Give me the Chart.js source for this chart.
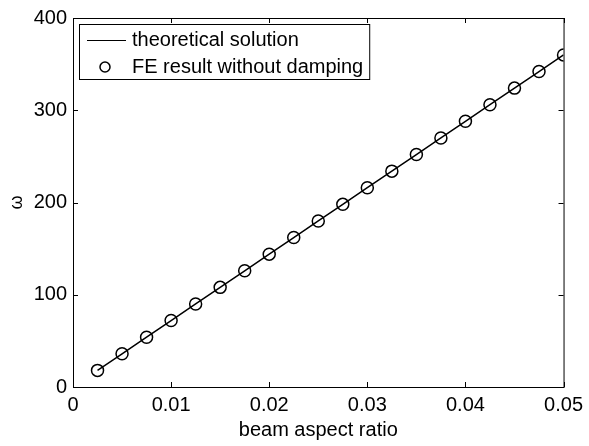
<!DOCTYPE html>
<html>
<head>
<meta charset="utf-8">
<script src="https://cdn.jsdelivr.net/npm/chart.js@4/dist/chart.umd.min.js"></script>
<style>
  html, body { margin: 0; padding: 0; background: #fff; }
  #wrap { width: 589px; height: 446px; }
</style>
</head>
<body>
<div id="wrap"><canvas id="chart" width="589" height="446"></canvas></div>
<script>
// values
const aspectRatio = [0.0025, 0.005, 0.0075, 0.01, 0.0125, 0.015, 0.0175, 0.02, 0.0225, 0.025,
  0.0275, 0.03, 0.0325, 0.035, 0.0375, 0.04, 0.0425, 0.045, 0.0475, 0.05];
const theoretical = [18, 36, 54, 72, 90, 108, 126, 144, 162, 180,
  198, 216, 234, 252, 270, 288, 306, 324, 342, 360];
const feResult = [18, 36, 54, 72, 90, 108, 126, 144, 162, 180,
  198, 216, 234, 252, 270, 288, 306, 324, 342, 360];
const xTicks = [0, 0.01, 0.02, 0.03, 0.04, 0.05];
const yTicks = [0, 100, 200, 300, 400];
const legendLabels = ['theoretical solution', 'FE result without damping'];

const FONT = 'Liberation Sans, Arial, Helvetica, sans-serif';
const FSIZE = 20;

// matlab style box, inward ticks and legend
const boxPlugin = {
  id: 'box',
  afterDraw(chart) {
    const { ctx, chartArea: a, scales } = chart;
    ctx.save();
    ctx.strokeStyle = '#000';
    ctx.lineWidth = 1;
    ctx.strokeRect(a.left + 0.5, a.top + 0.5, a.right - a.left, a.bottom - a.top);
    const len = 5;
    ctx.beginPath();
    xTicks.forEach((v) => {
      const px = Math.round(scales.x.getPixelForValue(v)) + 0.5;
      ctx.moveTo(px, a.bottom); ctx.lineTo(px, a.bottom - len);
      ctx.moveTo(px, a.top); ctx.lineTo(px, a.top + len);
    });
    yTicks.forEach((v) => {
      const py = Math.round(scales.y.getPixelForValue(v)) + 0.5;
      ctx.moveTo(a.left, py); ctx.lineTo(a.left + len, py);
      ctx.moveTo(a.right, py); ctx.lineTo(a.right - len, py);
    });
    ctx.stroke();

    // legend
    ctx.font = FSIZE + 'px ' + FONT;
    const textW = Math.max(...legendLabels.map((t) => ctx.measureText(t).width));
    const lx = a.left + 6, ly = a.top + 6, lh = 55;
    const lw = 53 + textW + 6;
    ctx.fillStyle = '#fff';
    ctx.fillRect(lx, ly, lw, lh);
    ctx.strokeRect(lx + 0.5, ly + 0.5, lw, lh);
    ctx.fillStyle = '#000';
    ctx.textBaseline = 'middle';
    ctx.beginPath();
    ctx.moveTo(lx + 8, ly + 16.5); ctx.lineTo(lx + 47, ly + 16.5);
    ctx.stroke();
    ctx.fillText(legendLabels[0], lx + 53, ly + 16);
    ctx.beginPath();
    ctx.lineWidth = 1.5;
    ctx.arc(lx + 26, ly + 43, 5, 0, Math.PI * 2);
    ctx.stroke();
    ctx.fillText(legendLabels[1], lx + 53, ly + 43);
    ctx.restore();
  }
};

new Chart(document.getElementById('chart'), {
  type: 'scatter',
  data: {
    datasets: [
      {
        label: legendLabels[0],
        data: aspectRatio.map((x, i) => ({ x, y: theoretical[i] })),
        showLine: true,
        borderColor: '#000',
        borderWidth: 1.5,
        pointRadius: 0,
        tension: 0,
      },
      {
        label: legendLabels[1],
        data: aspectRatio.map((x, i) => ({ x, y: feResult[i] })),
        showLine: false,
        pointStyle: 'circle',
        pointRadius: 6,
        pointBorderWidth: 1.5,
        pointBorderColor: '#000',
        pointBackgroundColor: 'rgba(0,0,0,0)',
      },
    ],
  },
  options: {
    responsive: false,
    animation: false,
    layout: { padding: { left: 0, right: 22, top: 17, bottom: 0 } },
    plugins: { legend: { display: false }, tooltip: { enabled: false } },
    scales: {
      x: {
        type: 'linear',
        min: 0,
        max: 0.05,
        afterBuildTicks: (s) => { s.ticks = xTicks.map((v) => ({ value: v })); },
        afterFit: (s) => { s.height = 59; },
        grid: { display: false, drawTicks: false },
        border: { display: false },
        ticks: {
          color: '#000',
          padding: 6,
          maxRotation: 0,
          font: { family: FONT, size: FSIZE },
          callback: (v) => String(v),
        },
        title: {
          display: true,
          text: 'beam aspect ratio',
          color: '#000',
          font: { family: FONT, size: FSIZE },
          padding: { top: 0, bottom: 4 },
        },
      },
      y: {
        type: 'linear',
        min: 0,
        max: 400,
        afterBuildTicks: (s) => { s.ticks = yTicks.map((v) => ({ value: v })); },
        afterFit: (s) => { s.width = 73; },
        grid: { display: false, drawTicks: false },
        border: { display: false },
        ticks: {
          color: '#000',
          padding: 6,
          font: { family: FONT, size: FSIZE },
          callback: (v) => String(v),
        },
        title: {
          display: true,
          text: 'ω',
          color: '#000',
          font: { family: FONT, size: 18 },
          padding: { top: 6, bottom: 0 },
        },
      },
    },
  },
  plugins: [boxPlugin],
});
</script>
</body>
</html>
